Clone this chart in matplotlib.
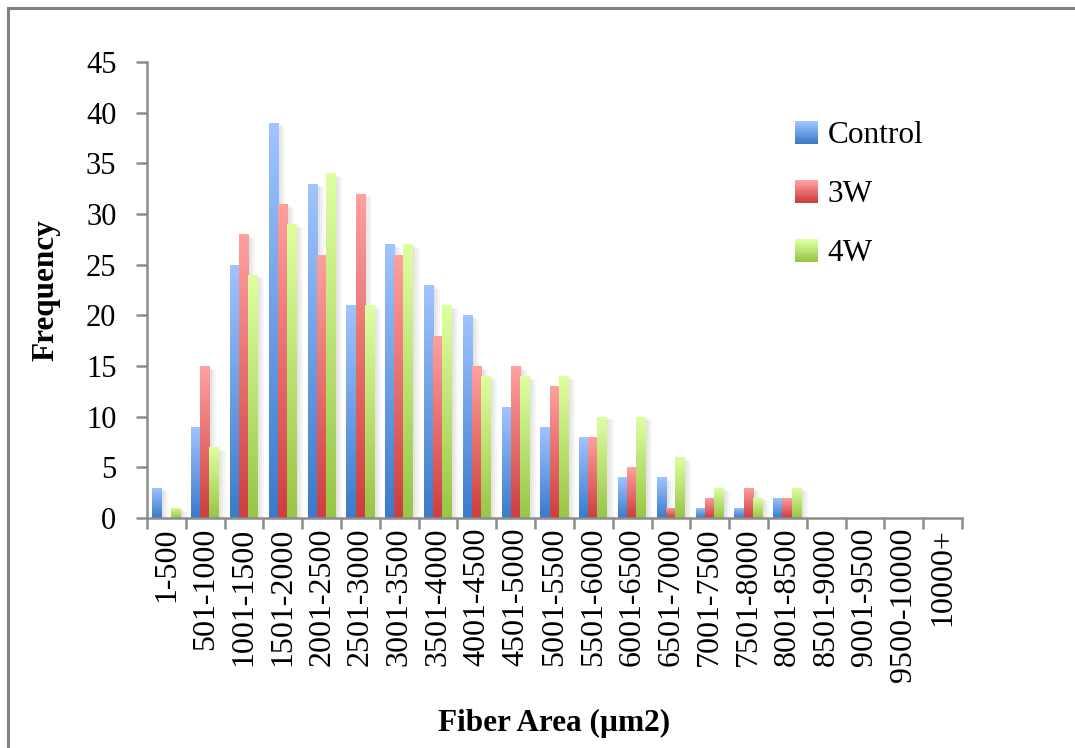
import numpy as np
import matplotlib
matplotlib.use("Agg")
import matplotlib.pyplot as plt
from matplotlib.patches import Rectangle
from matplotlib.legend_handler import HandlerBase
from matplotlib.colors import to_rgb
import matplotlib.patheffects as pe

categories = ["1-500", "501-1000", "1001-1500", "1501-2000", "2001-2500", "2501-3000",
              "3001-3500", "3501-4000", "4001-4500", "4501-5000", "5001-5500", "5501-6000",
              "6001-6500", "6501-7000", "7001-7500", "7501-8000", "8001-8500", "8501-9000",
              "9001-9500", "9500-10000", "10000+"]
control = [3, 9, 25, 39, 33, 21, 27, 23, 20, 11, 9, 8, 4, 4, 1, 1, 2, 0, 0, 0, 0]
w3 = [0, 15, 28, 31, 26, 32, 26, 18, 15, 15, 13, 8, 5, 1, 2, 3, 2, 0, 0, 0, 0]
w4 = [1, 7, 24, 29, 34, 21, 27, 21, 14, 14, 14, 10, 10, 6, 3, 2, 3, 0, 0, 0, 0]
series_names = ["Control", "3W", "4W"]
yticks = list(range(0, 46, 5))

grads = [("#A0C4FF", "#3A7BCB"), ("#FFA09E", "#CE3E3E"), ("#DEFFA0", "#98C646")]

plt.rcParams['font.family'] = ['Liberation Serif', 'DejaVu Serif']

fig = plt.figure(figsize=(10.75, 7.48), dpi=100)
W, H = 1075, 748
ax = fig.add_axes([147 / W, 1 - 518 / H, (962 - 147) / W, (518 - 62) / H])

# outer frame
fig.patches.append(Rectangle((8 / W, -0.1), 1.2, 1 - 8 / H + 0.1, transform=fig.transFigure,
                             fill=False, edgecolor="#808080", linewidth=2.2))

x = np.arange(len(categories))
bw = 0.255
offs = [-0.235, 0.0, 0.235]


def grad_img(top, bot, n=64):
    t = np.linspace(0, 1, n)[:, None]
    a = np.array(to_rgb(top))
    b = np.array(to_rgb(bot))
    img = a[None, :] * (1 - t) + b[None, :] * t
    return img[:, None, :]


shadow = [pe.SimplePatchShadow(offset=(o, -o * 0.6), shadow_rgbFace="#000000", alpha=0.035)
          for o in (1.5, 3, 4.5)]

for vals, off, (top, bot) in zip([control, w3, w4], offs, grads):
    bars = ax.bar(x + off, vals, width=bw, color=bot, linewidth=0, zorder=2,
                  path_effects=shadow + [pe.Normal()])
    img = grad_img(top, bot)
    for b in bars:
        h = b.get_height()
        if h <= 0:
            continue
        x0 = b.get_x()
        im = ax.imshow(img, extent=(x0, x0 + b.get_width(), 0, h), aspect='auto',
                       origin='upper', zorder=2.5, interpolation='bilinear')
        im.set_clip_path(b)

ax.set_xlim(-0.5, len(categories) - 0.5)
ax.set_ylim(0, 45)
ax.set_yticks(yticks)
ax.set_yticklabels([str(v) for v in yticks], fontsize=22)
ax.set_xticks(np.arange(len(categories) + 1) - 0.5)
ax.set_xticklabels([])
ax.set_xticks(x, minor=True)
ax.set_xticklabels(categories, minor=True, rotation=90, fontsize=23, va='top', ha='center')
ax.tick_params(axis='x', which='major', direction='out', length=8, width=1.8, color="#8C8C8C")
ax.tick_params(axis='x', which='minor', length=0, pad=7)
ax.tick_params(axis='y', direction='out', length=8, width=1.8, color="#8C8C8C", pad=14)
for s in ['top', 'right']:
    ax.spines[s].set_visible(False)
for s in ['left', 'bottom']:
    ax.spines[s].set_color("#8C8C8C")
    ax.spines[s].set_linewidth(1.8)
ax.set_xlim(-0.5, len(categories) - 0.5)

ax.set_ylabel("Frequency", fontsize=22.5, fontweight='bold', labelpad=18)
ax.set_xlabel("Fiber Area (µm2)", fontsize=22.5, fontweight='bold', labelpad=19)


class GradHandler(HandlerBase):
    def __init__(self, top, bot):
        super().__init__()
        self.top, self.bot = top, bot

    def create_artists(self, legend, orig_handle, xdescent, ydescent, width, height, fontsize, trans):
        arts = []
        n = 10
        a = np.array(to_rgb(self.top))
        b = np.array(to_rgb(self.bot))
        s = min(width, height)
        x0 = -xdescent + (width - s) / 2
        y0 = -ydescent + (height - s) / 2
        for i in range(n):
            t = i / (n - 1)
            c = a * t + b * (1 - t)
            r = Rectangle((x0, y0 + s * i / n), s, s / n + 0.3, facecolor=c, edgecolor='none',
                          transform=trans)
            arts.append(r)
        return arts


handles = [Rectangle((0, 0), 1, 1) for _ in series_names]
hmap = {h: GradHandler(t, b) for h, (t, b) in zip(handles, grads)}
leg = ax.legend(handles, series_names, handler_map=hmap, loc='upper left',
                bbox_to_anchor=((795 - 147) / (962 - 147), (518 - 121) / (518 - 62)),
                frameon=False, fontsize=22.5, handlelength=0.75, handleheight=0.75,
                handletextpad=0.3, labelspacing=0.95, borderaxespad=0, borderpad=0)

fig.savefig("out.png", dpi=100)
